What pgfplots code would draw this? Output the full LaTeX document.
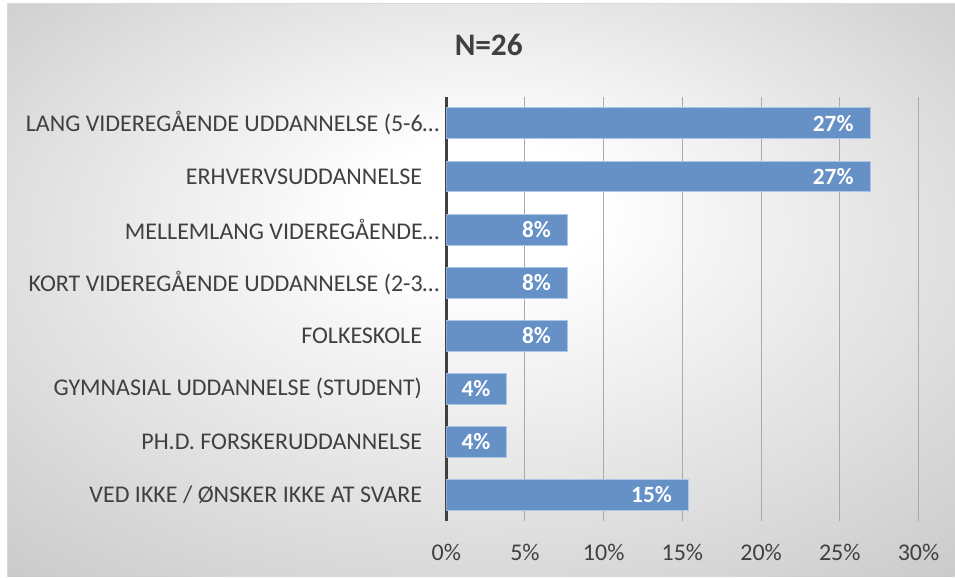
\documentclass[border=0pt]{standalone}
\usepackage{fontspec}
\setmainfont{Carlito}
\usepackage{pgfplots}
\pgfplotsset{compat=1.18}

\definecolor{barblue}{RGB}{101,145,199}
\definecolor{baredge}{RGB}{172,198,230}
\definecolor{txt}{RGB}{64,64,64}
\definecolor{bgdark}{RGB}{194,194,194}
\definecolor{gridc}{RGB}{170,170,170}
% light spot near the top centre, darker towards the corners
\pgfdeclareradialshading{chartbg}{\pgfpoint{0bp}{8bp}}{color(0bp)=(white); color(6bp)=(white); color(42bp)=(bgdark); color(50bp)=(bgdark)}

\begin{document}
\begin{tikzpicture}
% frame and title, 1 unit = 1 px of the reference
\begin{scope}[x=0.75pt,y=0.75pt]
  \fill[white] (0,0) rectangle (955,577);
  \shade[shading=chartbg] (8,0) rectangle (955,573);
  \draw[black!15, line width=0.75pt] (8,0) -- (8,573) -- (955,573);
  \node[font=\fontsize{23.5}{26}\selectfont\bfseries, text=txt] at (489,532) {N=26};
\end{scope}

\begin{axis}[
  at={(334.875pt,41.625pt)}, anchor=south west,
  scale only axis, width=354.375pt, height=318.375pt,
  xbar, bar width=23.25pt, bar shift=0pt,
  xmin=0, xmax=30, ymin=0.5, ymax=8.5,
  axis lines*=left, axis line style={-},
  x axis line style={draw=none},
  y axis line style={draw=txt, line width=2.1pt},
  major tick length=0pt,
  xmajorgrids, major grid style={gridc, line width=0.75pt},
  xtick={0,5,...,30},
  xticklabel={\pgfmathprintnumber{\tick}\%},
  ytick={1,...,8},
  yticklabels={
    VED IKKE / ØNSKER IKKE AT SVARE\hspace*{13pt},
    PH.D. FORSKERUDDANNELSE\hspace*{13pt},
    GYMNASIAL UDDANNELSE (STUDENT)\hspace*{13pt},
    FOLKESKOLE\hspace*{13pt},
    KORT VIDEREGÅENDE UDDANNELSE (2-3…,
    MELLEMLANG VIDEREGÅENDE…,
    ERHVERVSUDDANNELSE\hspace*{13pt},
    LANG VIDEREGÅENDE UDDANNELSE (5-6…},
  /pgf/number format/assume math mode=true,
  tick label style={font=\fontsize{18}{20}\selectfont, text=txt},
  yticklabel style={inner sep=0pt, xshift=-5pt},
  xticklabel style={anchor=center, yshift=-23.5pt},
  point meta=x,
  nodes near coords={\pgfmathprintnumber[fixed,precision=0]{\pgfplotspointmeta}\%},
  every node near coord/.append style={anchor=east, inner sep=0pt, xshift=-12pt,
    font=\fontsize{17.5}{20}\selectfont\bfseries, text=white},
]
\addplot[fill=barblue, draw=baredge, line width=0.75pt] coordinates {
  (15.38,1) (3.85,2) (3.85,3) (7.69,4) (7.69,5) (7.69,6) (26.92,7) (26.92,8)};
\end{axis}
\end{tikzpicture}
\end{document}
